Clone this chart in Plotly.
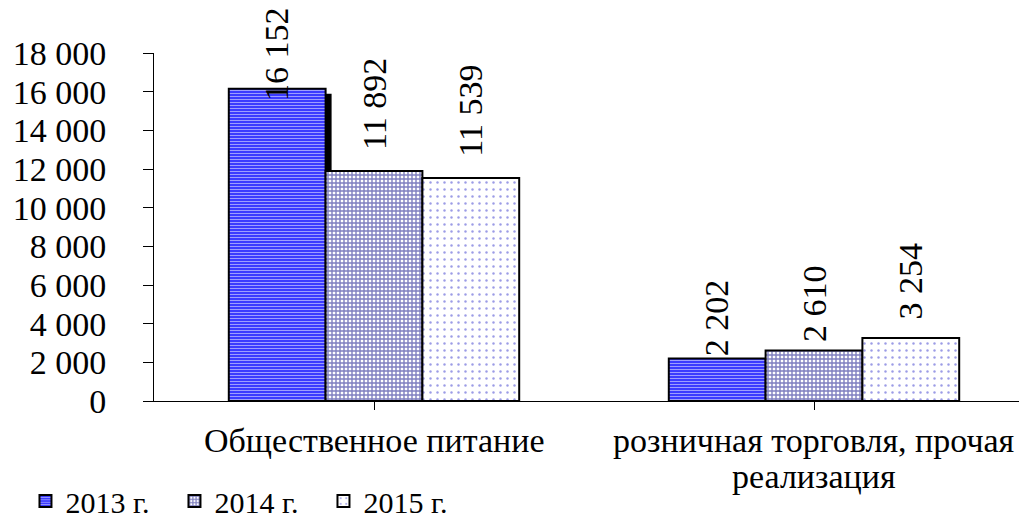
import plotly.graph_objects as go

categories = [["Общественное питание"], ["розничная торговля, прочая", "реализация"]]
years = ["2013 г.", "2014 г.", "2015 г."]
values_2013 = [16152, 2202]
values_2014 = [11892, 2610]
values_2015 = [11539, 3254]
y_ticks = [0, 2000, 4000, 6000, 8000, 10000, 12000, 14000, 16000, 18000]

series = [values_2013, values_2014, values_2015]

FONT = "Liberation Serif"
FS = 34

# geometry of the plot area in pixels (used for pixel-sized offsets)
W, H = 1019, 522
L, R, T, B = 154, 0, 53, 121
X_RANGE = [-0.5, -0.5 + (W - L - R) / 440]
Y_RANGE = [0, 18000]
px_x = (X_RANGE[1] - X_RANGE[0]) / (W - L - R)
px_y = (Y_RANGE[1] - Y_RANGE[0]) / (H - T - B)

BARGAP = 0.34
bar_w = (1 - BARGAP) / 3

# pattern styling for each year
styles = [
    dict(color="#3c3cff", pattern=dict(shape="-", fgcolor="white", size=3, solidity=0.35)),
    dict(color="white", pattern=dict(shape="+", fgcolor="#000080", size=4, solidity=0.58)),
    dict(color="white", pattern=dict(shape=".", fgcolor="#3a3acc", size=7, solidity=0.1)),
]

fig = go.Figure()
for name, vals, st in zip(years, series, styles):
    fig.add_bar(
        x=list(range(len(categories))), y=vals, name=name,
        marker=dict(color=st["color"], pattern=st["pattern"],
                    line=dict(color="black", width=2)),
    )

# drop shadow behind the 2013 bars
for i, v in enumerate(values_2013):
    x0 = i - bar_w * 1.5
    fig.add_shape(type="rect", layer="below", xref="x", yref="y",
                  x0=x0 + 5 * px_x, x1=x0 + bar_w + 6 * px_x,
                  y0=-5 * px_y, y1=v - 5 * px_y,
                  fillcolor="black", line_width=0)

def fmt(v):
    return f"{v:,}".replace(",", " ")

# value labels above the bars (vertical text), with per-label vertical nudges
label_shift = [[-14, 0], [19, 6], [19, 17]]
for j, vals in enumerate(series):
    for i, v in enumerate(vals):
        fig.add_annotation(
            x=i + (j - 1) * bar_w, y=v, text=fmt(v), textangle=-90,
            showarrow=False, yanchor="bottom", yshift=label_shift[j][i],
            font=dict(family=FONT, size=FS, color="black"),
        )

# category labels under the axis, one annotation per line
for i, lines in enumerate(categories):
    for k, line in enumerate(lines):
        fig.add_annotation(
            x=i, xref="x", y=0, yref="paper", text=line, showarrow=False,
            xanchor="center", yanchor="middle", yshift=-39 - 36 * k,
            font=dict(family=FONT, size=FS, color="black"),
        )

fig.update_layout(
    width=W, height=H,
    margin=dict(l=L, r=R, t=T, b=B, autoexpand=False),
    paper_bgcolor="white", plot_bgcolor="white",
    barmode="group", bargap=BARGAP, bargroupgap=0,
    font=dict(family=FONT, size=FS, color="black"),
    showlegend=True,
    legend=dict(orientation="h", xref="container", yref="container",
                x=0.025, xanchor="left", y=0.09, yanchor="top",
                font=dict(family=FONT, size=30), itemwidth=30,
                entrywidth=104, entrywidthmode="pixels",
                tracegroupgap=0, bgcolor="rgba(0,0,0,0)"),
)
fig.update_xaxes(
    tickmode="array", tickvals=list(range(len(categories))), showticklabels=False,
    range=X_RANGE, showline=True, linecolor="black", linewidth=1,
    ticks="outside", tickson="boundaries", ticklen=8, tickcolor="black",
    showgrid=False, zeroline=False, automargin=False,
)
fig.update_yaxes(
    range=Y_RANGE, tickvals=y_ticks, ticktext=[fmt(t) for t in y_ticks],
    showline=True, linecolor="black", linewidth=1, ticks="outside", ticklen=10,
    tickcolor="black", showgrid=False, zeroline=False, ticklabelstandoff=30,
    automargin=False,
)
fig.write_html("out.html")
